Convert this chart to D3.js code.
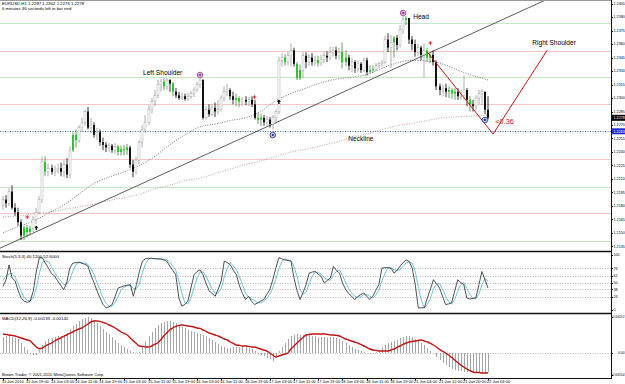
<!DOCTYPE html>
<html>
<head>
<meta charset="utf-8">
<script src="https://cdn.jsdelivr.net/npm/d3@7"></script>
<style>
body{margin:0;background:#fff}
svg{display:block;font-family:"Liberation Sans",Arial,sans-serif}
</style>
</head>
<body>
<svg id="chart" width="625" height="384"></svg>
<script>
// EURUSD H1, 11 Jun 2010 11:00 .. 22 Jun 2010 04:00
const opens = [1.2181,1.2187,1.2183,1.2196,1.2178,1.2173,1.2162,1.2147,1.2156,1.2151,
1.2155,1.2165,1.2173,1.2187,1.2229,1.2218,1.2222,1.2218,1.2220,1.2222,
1.2218,1.2226,1.2215,1.2242,1.2259,1.2253,1.2267,1.2273,1.2285,1.2267,
1.2270,1.2259,1.2262,1.2251,1.2248,1.2245,1.2247,1.2242,1.2246,1.2240,
1.2243,1.2242,1.2245,1.2226,1.2218,1.2231,1.2251,1.2265,1.2273,1.2287,
1.2296,1.2303,1.2315,1.2318,1.2313,1.2320,1.2316,1.2307,1.2303,1.2300,
1.2302,1.2299,1.2302,1.2305,1.2309,1.2315,1.2320,1.2278,1.2287,1.2282,
1.2289,1.2285,1.2287,1.2300,1.2307,1.2309,1.2302,1.2298,1.2300,1.2296,
1.2298,1.2296,1.2298,1.2293,1.2278,1.2276,1.2278,1.2273,1.2276,1.2271,
1.2278,1.2285,1.2342,1.2345,1.2340,1.2347,1.2353,1.2338,1.2322,1.2331,
1.2347,1.2340,1.2345,1.2340,1.2342,1.2339,1.2343,1.2347,1.2345,1.2351,
1.2353,1.2347,1.2351,1.2340,1.2345,1.2336,1.2340,1.2333,1.2338,1.2331,
1.2342,1.2329,1.2331,1.2332,1.2336,1.2338,1.2340,1.2365,1.2356,1.2362,
1.2367,1.2359,1.2376,1.2387,1.2389,1.2365,1.2360,1.2351,1.2356,1.2348,
1.2353,1.2345,1.2348,1.2340,1.2313,1.2309,1.2311,1.2307,1.2309,1.2305,
1.2307,1.2302,1.2303,1.2309,1.2298,1.2293,1.2291,1.2300,1.2305,1.2307,
1.2287];
const highs = [1.2191,1.2192,1.2200,1.2203,1.2183,1.2178,1.2165,1.2158,1.2159,1.2158,
1.2169,1.2178,1.2191,1.2235,1.2235,1.2227,1.2226,1.2225,1.2227,1.2228,
1.2231,1.2233,1.2246,1.2262,1.2265,1.2270,1.2278,1.2287,1.2290,1.2278,
1.2273,1.2267,1.2265,1.2256,1.2251,1.2250,1.2249,1.2250,1.2248,1.2247,
1.2248,1.2249,1.2247,1.2231,1.2235,1.2253,1.2270,1.2281,1.2292,1.2300,
1.2309,1.2320,1.2321,1.2322,1.2322,1.2321,1.2318,1.2311,1.2307,1.2306,
1.2305,1.2306,1.2308,1.2312,1.2318,1.2322,1.2321,1.2291,1.2293,1.2293,
1.2295,1.2298,1.2303,1.2313,1.2316,1.2311,1.2307,1.2305,1.2302,1.2301,
1.2302,1.2301,1.2302,1.2298,1.2283,1.2282,1.2281,1.2280,1.2279,1.2281,
1.2287,1.2346,1.2350,1.2349,1.2351,1.2361,1.2356,1.2340,1.2337,1.2351,
1.2351,1.2349,1.2350,1.2347,1.2347,1.2348,1.2351,1.2352,1.2357,1.2357,
1.2357,1.2356,1.2362,1.2353,1.2348,1.2345,1.2342,1.2342,1.2340,1.2345,
1.2345,1.2336,1.2336,1.2339,1.2340,1.2342,1.2369,1.2372,1.2370,1.2369,
1.2370,1.2381,1.2391,1.2391,1.2389,1.2369,1.2365,1.2360,1.2358,1.2361,
1.2356,1.2351,1.2353,1.2342,1.2316,1.2315,1.2316,1.2313,1.2311,1.2311,
1.2311,1.2309,1.2325,1.2311,1.2302,1.2298,1.2303,1.2309,1.2310,1.2307,
1.2302];
const lows = [1.2176,1.2178,1.2180,1.2176,1.2169,1.2158,1.2142,1.2142,1.2145,1.2147,
1.2151,1.2160,1.2171,1.2183,1.2213,1.2213,1.2215,1.2213,1.2216,1.2213,
1.2212,1.2211,1.2211,1.2240,1.2245,1.2250,1.2262,1.2269,1.2265,1.2261,
1.2256,1.2253,1.2247,1.2242,1.2240,1.2240,1.2239,1.2238,1.2236,1.2236,
1.2236,1.2237,1.2222,1.2212,1.2215,1.2226,1.2245,1.2261,1.2270,1.2283,
1.2291,1.2300,1.2307,1.2309,1.2309,1.2307,1.2302,1.2300,1.2298,1.2298,
1.2297,1.2297,1.2299,1.2301,1.2307,1.2311,1.2276,1.2276,1.2279,1.2280,
1.2279,1.2282,1.2285,1.2296,1.2302,1.2298,1.2293,1.2291,1.2290,1.2291,
1.2292,1.2291,1.2290,1.2276,1.2271,1.2269,1.2269,1.2268,1.2267,1.2265,
1.2271,1.2282,1.2335,1.2336,1.2336,1.2335,1.2335,1.2320,1.2320,1.2322,
1.2333,1.2336,1.2336,1.2336,1.2335,1.2336,1.2339,1.2340,1.2342,1.2346,
1.2343,1.2342,1.2333,1.2336,1.2331,1.2329,1.2328,1.2329,1.2328,1.2329,
1.2325,1.2327,1.2328,1.2330,1.2333,1.2335,1.2338,1.2351,1.2333,1.2345,
1.2353,1.2356,1.2371,1.2381,1.2360,1.2353,1.2346,1.2347,1.2342,1.2322,
1.2340,1.2339,1.2336,1.2309,1.2303,1.2302,1.2301,1.2300,1.2299,1.2298,
1.2298,1.2298,1.2298,1.2291,1.2285,1.2285,1.2287,1.2293,1.2292,1.2282,
1.2276];
const closes = [1.2187,1.2183,1.2196,1.2178,1.2173,1.2162,1.2147,1.2156,1.2151,1.2155,
1.2165,1.2173,1.2187,1.2229,1.2218,1.2222,1.2218,1.2220,1.2222,1.2218,
1.2226,1.2215,1.2242,1.2259,1.2253,1.2267,1.2273,1.2285,1.2267,1.2270,
1.2259,1.2262,1.2251,1.2248,1.2245,1.2247,1.2242,1.2246,1.2240,1.2243,
1.2242,1.2245,1.2226,1.2218,1.2231,1.2251,1.2265,1.2273,1.2287,1.2296,
1.2303,1.2315,1.2318,1.2313,1.2320,1.2316,1.2307,1.2303,1.2300,1.2302,
1.2299,1.2302,1.2305,1.2309,1.2315,1.2320,1.2278,1.2287,1.2282,1.2289,
1.2285,1.2287,1.2300,1.2307,1.2309,1.2302,1.2298,1.2300,1.2296,1.2298,
1.2296,1.2298,1.2293,1.2278,1.2276,1.2278,1.2273,1.2276,1.2271,1.2278,
1.2285,1.2342,1.2345,1.2340,1.2347,1.2353,1.2338,1.2322,1.2331,1.2347,
1.2340,1.2345,1.2340,1.2342,1.2339,1.2343,1.2347,1.2345,1.2351,1.2353,
1.2347,1.2351,1.2340,1.2345,1.2336,1.2340,1.2333,1.2338,1.2331,1.2342,
1.2329,1.2331,1.2332,1.2336,1.2338,1.2340,1.2365,1.2356,1.2362,1.2367,
1.2359,1.2376,1.2387,1.2389,1.2365,1.2360,1.2351,1.2356,1.2348,1.2353,
1.2345,1.2348,1.2340,1.2313,1.2309,1.2311,1.2307,1.2309,1.2305,1.2307,
1.2302,1.2303,1.2309,1.2298,1.2293,1.2291,1.2300,1.2305,1.2307,1.2287,
1.2278];
// bars painted green by the chart's colouring indicator
const greenBars = [7,8,9,14,23,24,38,39,40,41,53,56,77,78,84,85,93,97,98,104,112,113,121,122,129,133,140,141,147,148,149,154];

// moving averages, read every 5 bars
const maBars = [0,5,10,15,20,25,30,35,40,45,50,55,60,65,70,75,80,85,90,95,100,105,110,115,120,125,130,135,140,145,150,155,160];
const maFast = [1.2150,1.2157,1.2163,1.2172,1.2181,1.2193,1.2205,1.2212,1.2218,1.2225,1.2235,1.2248,1.2259,1.2268,1.2271,1.2275,1.2278,1.2285,1.2297,1.2305,1.2311,1.2317,1.2321,1.2323,1.2326,1.2333,1.2339,1.2342,1.2341,1.2338,1.2331,1.2325,1.2320];
const maSlow = [1.2168,1.2169,1.2171,1.2173,1.2176,1.2179,1.2182,1.2186,1.2189,1.2193,1.2199,1.2203,1.2208,1.2211,1.2216,1.2221,1.2226,1.2230,1.2235,1.2240,1.2243,1.2247,1.2251,1.2256,1.2260,1.2265,1.2269,1.2272,1.2275,1.2278,1.2279,1.2280,1.2281];

// drawn objects
const supportLevels = [1.2383,1.2323,1.2201,1.2141];
const resistanceLevels = [1.2352,1.2293,1.2232,1.2172];
const necklineLevel = 1.2263;
const trendBars = [-1,179], trendPrices = [1.2133,1.2409];
const patternBars = [140,161.7,179.5], patternPrices = [1.2351,1.2260,1.2353];
const noteTexts = ["Left Shoulder","Head","Right Shoulder","Neckline"];
const noteBars = [46.2,135.3,174.6,113.9];
const notePrices = [1.2326,1.23874,1.23585,1.22518];
const ratioText = "<0.36", ratioBar = 162.4, ratioPrice = 1.22716;
const peakBars = [65,132], peakPrices = [1.23256,1.23945];
const troughBars = [89,159], troughPrices = [1.22589,1.22756];
const crossBars = [8,83,141], crossPrices = [1.21677,1.23011,1.23612];
const arrowBars = [11,91], arrowPrices = [1.21555,1.22956];

// Stochastic(5,3,3)
const stochMain = [43,55,82,58,53,35,22,16,14,16,
35,71,95,95,85,76,66,62,53,45,
37,49,76,85,86,87,85,83,80,64,
50,35,22,10,4,6,10,25,40,42,
44,45,46,25,46,70,89,93,94,94,
93,93,93,91,89,80,72,64,22,7,
10,16,40,64,70,73,64,48,35,30,
25,38,53,89,86,82,72,64,44,30,
19,25,16,10,13,16,19,28,37,55,
76,95,93,91,90,89,58,35,19,32,
46,67,69,70,65,61,49,54,58,79,
72,67,49,38,30,25,19,24,28,31,
25,19,25,36,46,76,77,77,76,67,
72,80,86,91,88,76,46,4,4,4,
22,38,55,48,40,25,10,11,13,34,
55,50,46,22,20,21,22,46,70,55,
40.12];
const stochSignal = [53,62,65,67,60,48,34,22,18,17,
22,40,67,87,89,88,79,68,60,53,
46,47,54,70,82,86,86,85,83,76,
65,50,36,22,12,7,7,14,25,36,
42,44,45,39,39,47,68,84,92,94,
94,93,93,92,91,87,80,72,53,31,
13,11,22,40,58,69,69,62,49,38,
30,31,39,60,76,86,80,73,60,46,
31,24,20,17,13,13,16,21,28,40,
56,75,88,93,91,90,79,61,37,29,
32,48,61,69,68,65,58,55,54,64,
70,73,63,51,39,31,25,23,24,28,
28,25,22,27,36,53,66,76,77,73,
72,73,79,86,88,85,70,42,18,4,
10,21,38,47,48,38,25,15,11,19,
34,46,50,39,29,21,21,29,46,57,
52.60];
const stochLevels = [24,38,50,62,76];
const stochTicks = [0,24,38,50,62,76,100];

// MACD(12,26,9)
const macdHist = [0.00112,0.00119,0.00119,0.00112,0.00105,0.00098,0.00070,0.00042,0.00021,-0.00007,
-0.00014,-0.00014,0.00021,0.00056,0.00084,0.00098,0.00105,0.00112,0.00119,0.00119,
0.00126,0.00140,0.00168,0.00189,0.00203,0.00224,0.00238,0.00245,0.00252,0.00245,
0.00231,0.00210,0.00189,0.00168,0.00147,0.00133,0.00112,0.00091,0.00070,0.00056,
0.00042,0.00028,0.00014,0.00007,0.00004,0.00007,0.00042,0.00084,0.00119,0.00147,
0.00175,0.00196,0.00210,0.00217,0.00224,0.00224,0.00217,0.00210,0.00196,0.00182,
0.00175,0.00161,0.00154,0.00147,0.00140,0.00133,0.00126,0.00119,0.00105,0.00091,
0.00077,0.00063,0.00049,0.00042,0.00035,0.00035,0.00042,0.00042,0.00042,0.00049,
0.00042,0.00035,0.00028,0.00014,-0.00007,-0.00014,-0.00021,-0.00035,-0.00042,-0.00056,
-0.00035,0.00014,0.00042,0.00070,0.00098,0.00119,0.00126,0.00133,0.00126,0.00126,
0.00126,0.00126,0.00119,0.00119,0.00112,0.00112,0.00112,0.00105,0.00112,0.00112,
0.00105,0.00098,0.00084,0.00070,0.00056,0.00042,0.00028,0.00021,0.00014,0.00007,
-0.00002,-0.00003,0.00002,0.00007,0.00021,0.00042,0.00056,0.00070,0.00077,0.00084,
0.00091,0.00105,0.00112,0.00119,0.00119,0.00112,0.00098,0.00084,0.00070,0.00056,
0.00035,0.00014,-0.00003,-0.00028,-0.00049,-0.00070,-0.00084,-0.00098,-0.00112,-0.00119,
-0.00126,-0.00126,-0.00133,-0.00133,-0.00133,-0.00140,-0.00140,-0.00140,-0.00140,-0.00140,
-0.00133];
const macdSignal = [0.00133,0.00130,0.00126,0.00123,0.00119,0.00112,0.00105,0.00098,0.00091,0.00084,
0.00063,0.00042,0.00030,0.00035,0.00049,0.00060,0.00070,0.00084,0.00095,0.00105,
0.00116,0.00126,0.00137,0.00147,0.00158,0.00168,0.00175,0.00189,0.00203,0.00217,
0.00224,0.00224,0.00221,0.00214,0.00207,0.00196,0.00186,0.00175,0.00161,0.00147,
0.00137,0.00126,0.00105,0.00084,0.00067,0.00049,0.00046,0.00042,0.00042,0.00049,
0.00060,0.00070,0.00091,0.00119,0.00140,0.00161,0.00175,0.00186,0.00193,0.00196,
0.00193,0.00189,0.00186,0.00182,0.00175,0.00172,0.00161,0.00151,0.00140,0.00133,
0.00126,0.00119,0.00109,0.00098,0.00091,0.00077,0.00067,0.00056,0.00053,0.00049,
0.00049,0.00046,0.00042,0.00042,0.00035,0.00028,0.00021,0.00014,0.00000,-0.00014,
-0.00028,-0.00021,-0.00014,-0.00007,0.00000,0.00028,0.00049,0.00070,0.00091,0.00109,
0.00126,0.00130,0.00133,0.00133,0.00133,0.00133,0.00133,0.00130,0.00126,0.00126,
0.00123,0.00119,0.00109,0.00098,0.00091,0.00084,0.00077,0.00070,0.00060,0.00049,
0.00039,0.00028,0.00021,0.00018,0.00014,0.00014,0.00014,0.00014,0.00021,0.00028,
0.00039,0.00049,0.00060,0.00070,0.00077,0.00081,0.00084,0.00088,0.00091,0.00084,
0.00077,0.00067,0.00056,0.00042,0.00025,0.00011,0.00000,-0.00014,-0.00032,-0.00049,
-0.00067,-0.00084,-0.00098,-0.00112,-0.00123,-0.00133,-0.00137,-0.00137,-0.00140,-0.00140,
-0.00140];
const macdTicks = [-0.00154,0,0.00252];

// axes
const priceTicks = [1.2135,1.2150,1.2165,1.2180,1.2195,1.2210,1.2225,1.2240,1.2255,1.2270,1.2285,1.2300,1.2315,1.2330,1.2345,1.2360,1.2375,1.2390,1.2405];
const timeBars = [0,8,16,24,32,40,48,56,64,72,80,88,96,104,112,120,128,136,144,152,160];
const timeLabels = ["11 Jun 2010","11 Jun 19:00","14 Jun 03:00","14 Jun 11:00","14 Jun 19:00","15 Jun 03:00","15 Jun 11:00","15 Jun 19:00","16 Jun 03:00","16 Jun 11:00","16 Jun 19:00","17 Jun 03:00","17 Jun 11:00","17 Jun 19:00","18 Jun 03:00","18 Jun 11:00","18 Jun 19:00","21 Jun 04:00","21 Jun 12:00","21 Jun 20:00","22 Jun 04:00"];

const axisX = 611;
const svg = d3.select("#chart");

const x = d3.scaleLinear().domain([0, 160]).range([3, 488]);
const y = d3.scaleLinear().domain([1.2131, 1.2409]).range([250, 0]);
const yS = d3.scaleLinear().domain([0, 100]).range([310, 255]);
const yM = d3.scaleLinear().domain([-0.00154, 0.00252]).range([375, 317]);
const px = i => Math.round(x(i));

svg.append("defs").append("clipPath").attr("id", "clipMain")
    .append("rect").attr("x", 0).attr("y", 0).attr("width", axisX).attr("height", 250);

const main = svg.append("g").attr("clip-path", "url(#clipMain)");

//horizontal levels
main.selectAll(".sup").data(supportLevels).join("line")
    .attr("class", "sup")
    .attr("x1", 0).attr("x2", axisX)
    .attr("y1", d => Math.round(y(d)) + 0.5).attr("y2", d => Math.round(y(d)) + 0.5)
    .attr("stroke", "#c4eac4");
main.selectAll(".res").data(resistanceLevels).join("line")
    .attr("class", "res")
    .attr("x1", 0).attr("x2", axisX)
    .attr("y1", d => Math.round(y(d)) + 0.5).attr("y2", d => Math.round(y(d)) + 0.5)
    .attr("stroke", "#f5c8c8");
main.append("line")
    .attr("x1", 0).attr("x2", axisX)
    .attr("y1", Math.round(y(necklineLevel)) + 0.5).attr("y2", Math.round(y(necklineLevel)) + 0.5)
    .attr("stroke", "#3d6f9c").attr("stroke-dasharray", "1,1.5");

//moving averages
const maLine = d3.line().x(d => x(d[0])).y(d => y(d[1])).curve(d3.curveMonotoneX);
main.append("path").datum(d3.zip(maBars, maSlow)).attr("d", maLine)
    .attr("fill", "none").attr("stroke", "#b98585").attr("stroke-width", 0.8).attr("stroke-dasharray", "1,1.5");
main.append("path").datum(d3.zip(maBars, maFast)).attr("d", maLine)
    .attr("fill", "none").attr("stroke", "#555").attr("stroke-width", 0.8).attr("stroke-dasharray", "1,1.5");

//trend line
main.append("line")
    .attr("x1", x(trendBars[0])).attr("y1", y(trendPrices[0]))
    .attr("x2", x(trendBars[1])).attr("y2", y(trendPrices[1]))
    .attr("stroke", "#333").attr("stroke-width", 0.8);

//candles
const bars = d3.range(closes.length);
const isGreen = i => greenBars.includes(i);
const isDown = i => closes[i] < opens[i];
main.append("g").selectAll("line").data(bars).join("line")
    .attr("x1", px).attr("x2", px)
    .attr("y1", i => y(highs[i])).attr("y2", i => y(lows[i]))
    .attr("stroke", i => isGreen(i) ? "#3a8a3a" : isDown(i) ? "#000" : "#9a9a9a")
    .attr("stroke-width", 0.8);
main.append("g").selectAll("rect").data(bars).join("rect")
    .attr("x", i => px(i) - 1).attr("width", 2)
    .attr("y", i => y(Math.max(opens[i], closes[i])))
    .attr("height", i => Math.max(1, Math.abs(y(opens[i]) - y(closes[i]))))
    .attr("fill", i => isGreen(i) ? "#2fc42f" : isDown(i) ? "#111" : "#fff")
    .attr("stroke", i => (isGreen(i) || isDown(i)) ? "none" : "#a0a0a0")
    .attr("stroke-width", 0.45);

//pattern lines
const patLine = d3.line().x(d => x(d[0])).y(d => y(d[1]));
main.append("path").datum(d3.zip(patternBars, patternPrices)).attr("d", patLine)
    .attr("fill", "none").attr("stroke", "#c41818").attr("stroke-width", 1);

//markers
const peaks = main.append("g").selectAll("g").data(d3.zip(peakBars, peakPrices)).join("g")
    .attr("transform", d => "translate(" + x(d[0]) + "," + y(d[1]) + ")");
peaks.append("circle").attr("r", 2.8).attr("fill", "#f4d2ef").attr("stroke", "#9a2d8c").attr("stroke-width", 0.8);
peaks.append("path").attr("d", "M-1.6,0H1.6M0,-1.6V1.6").attr("stroke", "#4b1a6a").attr("stroke-width", 0.8);

const troughs = main.append("g").selectAll("g").data(d3.zip(troughBars, troughPrices)).join("g")
    .attr("transform", d => "translate(" + x(d[0]) + "," + y(d[1]) + ")");
troughs.append("circle").attr("r", 2.8).attr("fill", "#c7cdf0").attr("stroke", "#1c2a86").attr("stroke-width", 0.8);
troughs.append("circle").attr("r", 1.1).attr("fill", "#1c2a86");

main.append("g").selectAll("path").data(d3.zip(crossBars, crossPrices)).join("path")
    .attr("d", d => "M" + (x(d[0]) - 1.8) + "," + y(d[1]) + "h3.6M" + x(d[0]) + "," + (y(d[1]) - 1.8) + "v3.6")
    .attr("stroke", "#e02020").attr("stroke-width", 1.1);

main.append("g").selectAll("path").data(d3.zip(arrowBars, arrowPrices)).join("path")
    .attr("d", d => {
        const cx = x(d[0]), cy = y(d[1]);
        return "M" + cx + "," + (cy - 2.5) + "l-2,2.2h1.3v2.3h1.4v-2.3h1.3z";
    })
    .attr("fill", "#000");

//pattern notes
main.append("g").selectAll("text").data(d3.range(noteTexts.length)).join("text")
    .attr("x", i => x(noteBars[i])).attr("y", i => y(notePrices[i]))
    .attr("font-size", 6.6).attr("fill", "#000")
    .text(i => noteTexts[i]);
main.append("text")
    .attr("x", x(ratioBar)).attr("y", y(ratioPrice))
    .attr("font-size", 7.4).attr("fill", "#c41818")
    .text(ratioText);

//header texts
svg.append("text").attr("x", 2).attr("y", 5).attr("font-size", 4.3).attr("fill", "#000")
    .text("EURUSD,H1  " + [opens[160], highs[160], lows[160], closes[160]].map(d => d.toFixed(4)).join(" "));
svg.append("text").attr("x", 2).attr("y", 9.5).attr("font-size", 4.3).attr("fill", "#000")
    .text("6 minutes 36 seconds left to bar end");

//stochastic panel
const stoch = svg.append("g");
stoch.selectAll("line").data(stochLevels).join("line")
    .attr("x1", 0).attr("x2", axisX)
    .attr("y1", d => Math.round(yS(d)) + 0.5).attr("y2", d => Math.round(yS(d)) + 0.5)
    .attr("stroke", "#b8b8b8").attr("stroke-dasharray", "1,1.5");
const stLine = d3.line().x((d, i) => x(i)).y(d => yS(d));
stoch.append("path").datum(stochSignal).attr("d", stLine)
    .attr("fill", "none").attr("stroke", "#62bcd8").attr("stroke-width", 0.9);
stoch.append("path").datum(stochMain).attr("d", stLine)
    .attr("fill", "none").attr("stroke", "#262626").attr("stroke-width", 0.8);
stoch.append("text").attr("x", 2).attr("y", 257.5).attr("font-size", 4.3).attr("fill", "#000")
    .text("Stoch(5,3,3) " + stochMain[160].toFixed(4) + " " + stochSignal[160].toFixed(4));

//macd panel
const macd = svg.append("g");
macd.append("line").attr("x1", 0).attr("x2", axisX)
    .attr("y1", Math.round(yM(0)) + 0.5).attr("y2", Math.round(yM(0)) + 0.5)
    .attr("stroke", "#b8b8b8").attr("stroke-dasharray", "1,1.5");
macd.append("g").selectAll("line").data(bars).join("line")
    .attr("x1", i => px(i) + 0.5).attr("x2", i => px(i) + 0.5)
    .attr("y1", yM(0)).attr("y2", i => yM(macdHist[i]))
    .attr("stroke", "#a6a6a6").attr("stroke-width", 1);
macd.append("path").datum(macdSignal)
    .attr("d", d3.line().x((d, i) => x(i)).y(d => yM(d)).curve(d3.curveMonotoneX))
    .attr("fill", "none").attr("stroke", "#c41414").attr("stroke-width", 1.4);
macd.append("text").attr("x", 2).attr("y", 319.5).attr("font-size", 4.3).attr("fill", "#000")
    .text("MACD(12,26,9) " + macdHist[160].toFixed(5) + " " + macdSignal[160].toFixed(5));
macd.append("text").attr("x", 2).attr("y", 376).attr("font-size", 4.1).attr("fill", "#000")
    .text("Brown Trader, \u00a9 2001-2010 MetaQuotes Software Corp.");

//frames
svg.append("line").attr("x1", 0).attr("x2", axisX).attr("y1", 0.5).attr("y2", 0.5).attr("stroke", "#999");
[251.5, 313.5].forEach(v => {
    svg.append("line").attr("x1", 0).attr("x2", axisX).attr("y1", v).attr("y2", v)
        .attr("stroke", "#111").attr("stroke-width", 1.6);
});
svg.append("line").attr("x1", 0).attr("x2", axisX + 1).attr("y1", 378.5).attr("y2", 378.5).attr("stroke", "#111");
svg.append("line").attr("x1", axisX + 0.5).attr("x2", axisX + 0.5).attr("y1", 0).attr("y2", 379).attr("stroke", "#111");

//price axis
const ax = svg.append("g").attr("font-size", 3.7).attr("fill", "#000");
ax.selectAll("line").data(priceTicks).join("line")
    .attr("x1", axisX).attr("x2", axisX + 2)
    .attr("y1", d => Math.round(y(d)) + 0.5).attr("y2", d => Math.round(y(d)) + 0.5)
    .attr("stroke", "#111");
ax.selectAll("text").data(priceTicks).join("text")
    .attr("x", axisX + 2.5).attr("y", d => y(d) + 1.4)
    .text(d => d.toFixed(4));

function tag(v, yy, bg) {
    svg.append("rect").attr("x", axisX + 1).attr("y", yy - 3).attr("width", 13.5).attr("height", 6).attr("fill", bg);
    svg.append("text").attr("x", axisX + 2.5).attr("y", yy + 1.4).attr("font-size", 3.7).attr("fill", "#fff").text(v);
}
tag(closes[160].toFixed(4), y(closes[160]), "#000");
tag(necklineLevel.toFixed(4), y(necklineLevel), "#1f2ad8");

//stoch axis
const sax = svg.append("g").attr("font-size", 3.7).attr("fill", "#000");
sax.selectAll("line").data(stochTicks).join("line")
    .attr("x1", axisX).attr("x2", axisX + 2)
    .attr("y1", d => Math.round(yS(d)) + 0.5).attr("y2", d => Math.round(yS(d)) + 0.5)
    .attr("stroke", "#111");
sax.selectAll("text").data(stochTicks).join("text")
    .attr("x", axisX + 2.5).attr("y", d => yS(d) + 1.4)
    .text(d => d);

//macd axis
const max = svg.append("g").attr("font-size", 3.3).attr("fill", "#000");
max.selectAll("line").data(macdTicks).join("line")
    .attr("x1", axisX).attr("x2", axisX + 2)
    .attr("y1", d => Math.round(yM(d)) + 0.5).attr("y2", d => Math.round(yM(d)) + 0.5)
    .attr("stroke", "#111");
max.selectAll("text").data(macdTicks).join("text")
    .attr("x", 624.5).attr("y", d => yM(d) + 1.3)
    .attr("text-anchor", "end")
    .text(d => d === 0 ? "0.00" : d.toFixed(5));

//time axis
const tax = svg.append("g").attr("font-size", 4).attr("fill", "#000");
tax.selectAll("line").data(timeBars).join("line")
    .attr("x1", d => px(d) + 0.5).attr("x2", d => px(d) + 0.5)
    .attr("y1", 378.5).attr("y2", 380.5)
    .attr("stroke", "#111");
tax.selectAll("text").data(timeBars).join("text")
    .attr("x", d => px(d) - 1).attr("y", 383.3)
    .text((d, i) => timeLabels[i]);
</script>
</body>
</html>
